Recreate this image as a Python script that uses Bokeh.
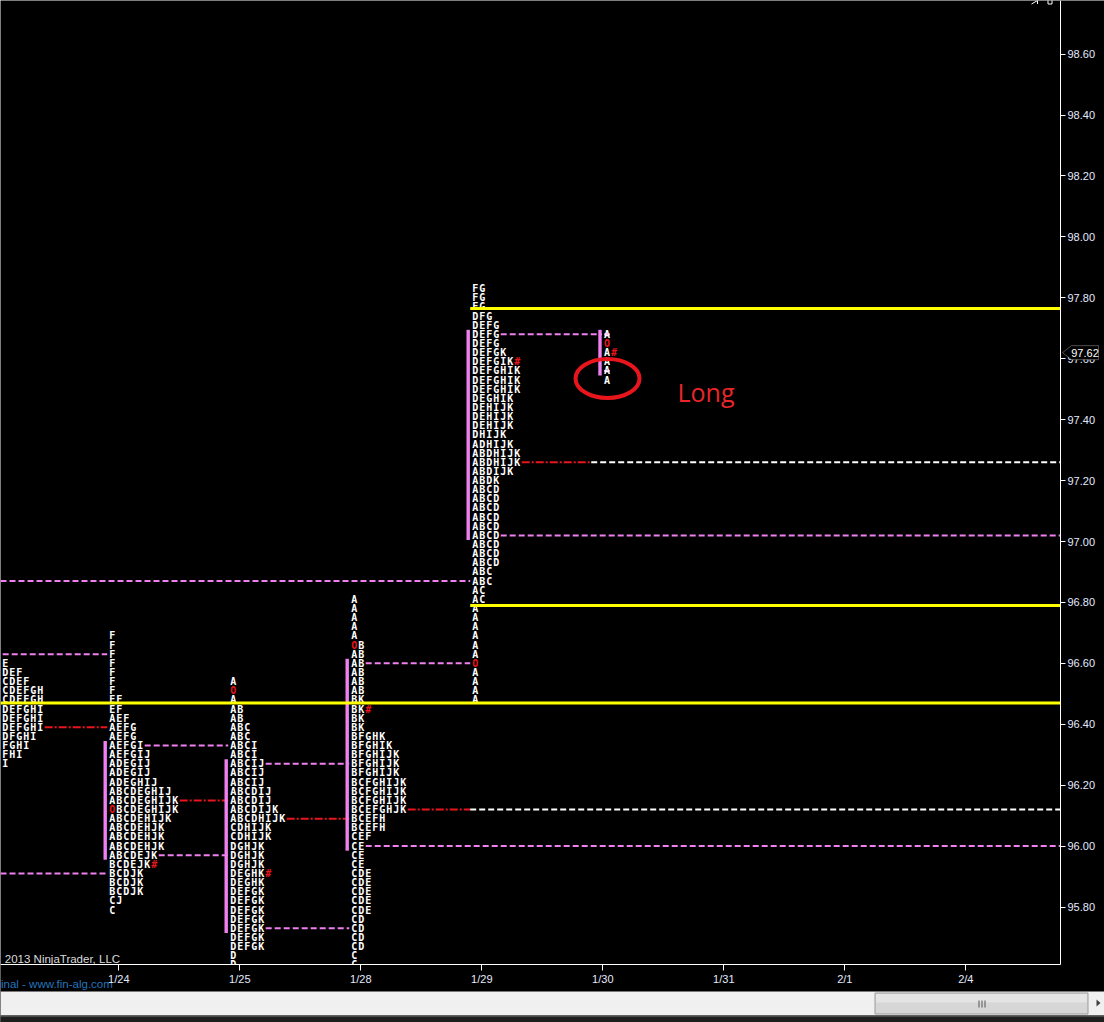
from bokeh.plotting import figure
from bokeh.models import (ColumnDataSource, Range1d, FixedTicker, PrintfTickFormatter,
                          Label, PolyAnnotation)
from bokeh.core.properties import value
from bokeh.embed import file_html
from bokeh.resources import INLINE

# ---------------------------------------------------------------- data
DATES = ["1/24", "1/25", "1/28", "1/29", "1/30", "1/31", "2/1", "2/4"]
PRICE_TICKS = [95.80, 96.00, 96.20, 96.40, 96.60, 96.80, 97.00, 97.20,
               97.40, 97.60, 97.80, 98.00, 98.20, 98.40, 98.60]
ROW_STEP = 0.03          # price height of one TPO row

SESSIONS = ["1/23", "1/24", "1/25", "1/28", "1/29", "1/30"]
TOPS = [96.63, 96.69, 96.54, 96.81, 97.83, 97.68]     # highest row of each profile
VAH = [96.63, 96.33, 96.27, 96.60, 97.68, 97.68]
POC = [96.39, 96.15, 96.09, 96.12, 97.26, None]
VAL = [95.91, 95.97, 95.73, 96.00, 97.02, 97.56]

# 1/23 is only partly on screen: the rows hold the letters that are still visible
ROWS_0123 = ["", "E", "DEF", "CDEF", "CDEFGH", "CDEFGH", "DEFGHI", "DEFGHI", "DEFGHI",
             "DFGHI", "FGHI", "FHI", "I"]
ROWS_0124 = ["F", "F", "F", "F", "F", "F", "F", "EF", "EF", "AEF", "AEFG", "AEFG",
             "AEFGI", "AEFGIJ", "ADEGIJ", "ADEGIJ", "ADEGHIJ", "ABCDEGHIJ",
             "ABCDEGHIJK", "OBCDEGHIJK", "ABCDEHIJK", "ABCDEHJK", "ABCDEHJK",
             "ABCDEHJK", "ABCDEJK", "BCDEJK#", "BCDJK", "BCDJK", "BCDJK", "CJ", "C"]
ROWS_0125 = ["A", "O", "A", "AB", "AB", "ABC", "ABC", "ABCI", "ABCI", "ABCIJ",
             "ABCIJ", "ABCIJ", "ABCDIJ", "ABCDIJ", "ABCDIJK", "ABCDHIJK", "CDHIJK",
             "CDHIJK", "DGHJK", "DGHJK", "DGHJK", "DEGHK#", "DEGHK", "DEFGK",
             "DEFGK", "DEFGK", "DEFGK", "DEFGK", "DEFGK", "DEFGK", "D", "D"]
ROWS_0128 = ["A", "A", "A", "A", "A", "OB", "AB", "AB", "AB", "AB", "AB", "BK",
             "BK#", "BK", "BK", "BFGHK", "BFGHIK", "BFGHIJK", "BFGHIJK", "BFGHIJK",
             "BCFGHIJK", "BCFGHIJK", "BCFGHIJK", "BCEFGHJK", "BCEFH", "BCEFH", "CEF",
             "CE", "CE", "CE", "CDE", "CDE", "CDE", "CDE", "CDE", "CD", "CD", "CD",
             "CD", "C", "C"]
ROWS_0129 = ["FG", "FG", "FG", "DFG", "DEFG", "DEFG", "DEFG", "DEFGK", "DEFGIK#",
             "DEFGHIK", "DEFGHIK", "DEFGHIK", "DEGHIK", "DEHIJK", "DEHIJK", "DEHIJK",
             "DHIJK", "ADHIJK", "ABDHIJK", "ABDHIJK", "ABDIJK", "ABDK", "ABCD", "ABCD",
             "ABCD", "ABCD", "ABCD", "ABCD", "ABCD", "ABCD", "ABCD", "ABC", "ABC",
             "AC", "AC", "A", "A", "A", "A", "A", "A", "O", "A", "A", "A", "A"]
ROWS_0130 = ["A", "O", "A#", "A", "A", "A"]
PROFILE_ROWS = [ROWS_0123, ROWS_0124, ROWS_0125, ROWS_0128, ROWS_0129, ROWS_0130]

PRIOR_VA_LEVELS = [96.87]                 # untouched value-area edge from an older session
YELLOW_LEVELS = [96.47, 96.79, 97.765]
YELLOW_FROM = [None, "1/29", "1/29"]
LAST_PRICE = 97.62

# ---------------------------------------------------------------- layout
W, H = 1104, 1022
AXIS_X_PX, AXIS_Y_PX = 1060, 964          # price scale / date scale lines
PX_DAY, PX_PRICE = 121.0, 304.6
X0 = -118.3 / PX_DAY                      # left edge of the canvas
XR = X0 + W / PX_DAY
X_AX = X0 + AXIS_X_PX / PX_DAY
Y0 = 95.6113                              # price at the date scale line
Y_TOP = Y0 + AXIS_Y_PX / PX_PRICE
Y_BOT = Y_TOP - H / PX_PRICE


def px_x(v):
    return v / PX_DAY


def px_y(v):
    return v / PX_PRICE


def cx(v):
    return X0 + v / PX_DAY


def cy(v):
    return Y_TOP - v / PX_PRICE


LETTER_PX = -9.6      # first TPO column relative to the date tick
CHAR_PX = 7.0         # TPO column pitch
BAR_PX = -13.6        # value-area bar relative to the date tick
BAR_W_PX = 3.4
DEV_SHIFT_PX = 10.8   # the developing session is drawn a little to the right
COL_SKIP = [2, 0, 0, 0, 0, 0]   # columns of a profile that lie left of the chart

WHITE = "#ffffff"
RED = "#e8161c"
PINK = "#f07ff0"
YELLOW = "#ffff00"

slot = {d: i for i, d in enumerate(DATES)}
slot["1/23"] = -1
n = len(SESSIONS)


def letters_x(k):
    shift = DEV_SHIFT_PX if k == n - 1 else 0.0
    return slot[SESSIONS[k]] + px_x(LETTER_PX + shift)


def bar_x(k):
    shift = DEV_SHIFT_PX if k == n - 1 else 0.0
    return slot[SESSIONS[k]] + px_x(BAR_PX + shift)


def row_end_x(k, price):
    i = int(round((TOPS[k] - price) / ROW_STEP))
    rows = PROFILE_ROWS[k]
    if i >= len(rows):
        return X0
    return max(X0, letters_x(k) + px_x((COL_SKIP[k] + len(rows[i])) * CHAR_PX + 0.5))


def low_of(k):
    return TOPS[k] - (len(PROFILE_ROWS[k]) - 1) * ROW_STEP


def covering(start, price):
    for k2 in range(start, n):
        if low_of(k2) - 1e-6 <= price <= TOPS[k2] + 1e-6:
            return k2
    return None


# ---------------------------------------------------------------- figure
p = figure(width=W, height=H, x_range=Range1d(X0, XR), y_range=Range1d(Y_BOT, Y_TOP),
           output_backend="svg", toolbar_location=None, y_axis_location="right")
p.min_border = 0
p.background_fill_color = "black"
p.border_fill_color = "black"
p.outline_line_color = None
p.grid.visible = False

ya = p.yaxis[0]
ya.ticker = FixedTicker(ticks=PRICE_TICKS)
ya.formatter = PrintfTickFormatter(format="%.2f")
ya.fixed_location = X_AX
ya.bounds = (Y0, Y_TOP)
xa = p.xaxis[0]
xa.ticker = FixedTicker(ticks=list(range(len(DATES))))
xa.major_label_overrides = {i: d for i, d in enumerate(DATES)}
xa.fixed_location = Y0
xa.bounds = (X0, X_AX)
for ax, tick_out in ((ya, 5), (xa, 6)):
    ax.axis_line_color = WHITE
    ax.axis_line_width = 1
    ax.major_tick_line_color = WHITE
    ax.major_tick_out = tick_out
    ax.major_tick_in = 0
    ax.minor_tick_line_color = None
    ax.major_label_text_color = "#e4eaff"
    ax.major_label_text_font = "Liberation Sans"
    ax.major_label_text_font_size = "11px"
    ax.major_label_standoff = 2

# level lines
pink, red, white = [], [], []
for k in range(n):
    if k == n - 1:
        for lvl in (VAH[k], VAL[k]):
            pink.append((letters_x(k), letters_x(k) + px_x(8), lvl))
        continue
    for lvl in (VAH[k], VAL[k]):
        k2 = covering(k + 1, lvl)
        end = letters_x(k2) - px_x(2) if k2 is not None else X_AX
        pink.append((row_end_x(k, lvl), end, lvl))
    if POC[k] is not None:
        k2 = covering(k + 1, POC[k])
        if k2 is not None:
            red.append((row_end_x(k, POC[k]), letters_x(k2) - px_x(2), POC[k]))
        else:
            mid = slot[SESSIONS[k]] + 1 + px_x(LETTER_PX - 2)
            red.append((row_end_x(k, POC[k]), mid, POC[k]))
            white.append((mid, X_AX, POC[k]))
for lvl in PRIOR_VA_LEVELS:
    k2 = covering(0, lvl)
    pink.append((X0, letters_x(k2) - px_x(2), lvl))


def seg_src(items):
    return ColumnDataSource(dict(x0=[a for a, _, _ in items], x1=[b for _, b, _ in items],
                                 y=[c for _, _, c in items]))


p.segment(x0="x0", y0="y", x1="x1", y1="y", source=seg_src(pink), line_color=PINK,
          line_width=2, line_dash="6 3")
p.segment(x0="x0", y0="y", x1="x1", y1="y", source=seg_src(red), line_color=RED,
          line_width=2, line_dash="8 2 2 2")
p.segment(x0="x0", y0="y", x1="x1", y1="y", source=seg_src(white), line_color=WHITE,
          line_width=2, line_dash="6 3")

# value-area bars
p.quad(left=[bar_x(k) - px_x(BAR_W_PX / 2) for k in range(n)],
       right=[bar_x(k) + px_x(BAR_W_PX / 2) for k in range(n)],
       top=[VAH[k] + ROW_STEP / 2 for k in range(n)],
       bottom=[VAL[k] - ROW_STEP / 2 for k in range(n)],
       fill_color=PINK, line_color=None)

# TPO letters
tx, ty, tt, tc = [], [], [], []
for k in range(n):
    for i, row in enumerate(PROFILE_ROWS[k]):
        price = round(TOPS[k] - i * ROW_STEP, 2)
        for j, ch in enumerate(row):
            tx.append(letters_x(k) + px_x((COL_SKIP[k] + j) * CHAR_PX))
            ty.append(price)
            tt.append(ch)
            tc.append(RED if ch in "O#" else WHITE)
p.text(x="x", y="y", text="t", text_color="c",
       source=ColumnDataSource(dict(x=tx, y=ty, t=tt, c=tc)),
       text_font=value("DejaVu Sans Mono"), text_font_style="bold", text_font_size="10px",
       text_align="left", text_baseline="middle")

# horizontal yellow levels
yx0 = [X0 if s is None else letters_x(SESSIONS.index(s)) - px_x(2) for s in YELLOW_FROM]
p.segment(x0=yx0, y0=YELLOW_LEVELS, x1=[X_AX] * len(YELLOW_LEVELS), y1=YELLOW_LEVELS,
          line_color=YELLOW, line_width=3)

# hand-drawn trade note
p.ellipse(x=[4.039], y=[97.535], width=[px_x(64)], height=[px_y(39)],
          fill_color=None, line_color=RED, line_width=4)
p.text(x=[4.617], y=[97.49], text=["Long"], text_color="#e8262b",
       text_font=value("Open Sans"), text_font_size="25px",
       text_align="left", text_baseline="middle")

# nothing of the profiles shows below the date scale
p.quad(left=[X0], right=[X_AX], top=[Y0], bottom=[Y_BOT], fill_color="black", line_color=None)

# credits
p.text(x=[cx(4.3)], y=[cy(958)], text=["2013 NinjaTrader, LLC"], text_color="#dcdcdc",
       text_font=value("Liberation Sans"), text_font_size="11.5px",
       text_align="left", text_baseline="middle")
p.text(x=[cx(0.5)], y=[cy(983)], text=["inal - www.fin-alg.com"], text_color="#2474bd",
       text_font=value("Liberation Sans"), text_font_size="11.5px",
       text_align="left", text_baseline="middle")

# small window buttons at the top right corner
p.quad(left=[cx(1047.5)], right=[cx(1051.5)], top=[cy(-1)], bottom=[cy(3.5)],
       fill_color=None, line_color=WHITE, line_width=1)
p.line(x=[cx(1031), cx(1037), cx(1037)], y=[cy(3.5), cy(0), cy(3.5)],
       line_color=WHITE, line_width=1)

# scroll bar strip
p.quad(left=[cx(0)], right=[cx(W)], top=[cy(991)], bottom=[cy(1015)],
       fill_color="#f0f0f0", line_color=None)
p.quad(left=[cx(0)], right=[cx(W)], top=[cy(1015)], bottom=[cy(1017)],
       fill_color="#4a4a4a", line_color=None)
p.quad(left=[cx(0)], right=[cx(W)], top=[cy(1017)], bottom=[cy(H)],
       fill_color="#1e1e1e", line_color=None)
p.quad(left=[cx(874.5)], right=[cx(1087.5)], top=[cy(992.5)], bottom=[cy(1013.5)],
       fill_color="#d6d6d6", line_color="#9c9c9c", line_width=1)
p.quad(left=[cx(875.5)], right=[cx(1086.5)], top=[cy(993.5)], bottom=[cy(1002)],
       fill_color="#e4e4e4", line_color=None)
p.segment(x0=[cx(978.5), cx(981.5), cx(984.5)], y0=[cy(1000)] * 3,
          x1=[cx(978.5), cx(981.5), cx(984.5)], y1=[cy(1007)] * 3,
          line_color="#555555", line_width=1)
p.patch(x=[cx(1096), cx(1100), cx(1096)], y=[cy(999), cy(1002.5), cy(1006)],
        fill_color="#404040", line_color=None)

# last price marker on the price scale
h = px_y(7)
p.add_layout(PolyAnnotation(
    xs=[X_AX + px_x(2), X_AX + px_x(11), X_AX + px_x(38), X_AX + px_x(38), X_AX + px_x(11)],
    ys=[LAST_PRICE, LAST_PRICE + h, LAST_PRICE + h, LAST_PRICE - h, LAST_PRICE - h],
    fill_color="black", fill_alpha=1, line_color=WHITE, line_width=1, level="overlay"))
p.add_layout(Label(x=X_AX + px_x(24.5), y=LAST_PRICE, text="%.2f" % LAST_PRICE,
                   text_color=WHITE, text_font="Liberation Sans", text_font_size="11px",
                   text_align="center", text_baseline="middle", level="overlay"))

open("out.html", "w").write(file_html(p, INLINE))
